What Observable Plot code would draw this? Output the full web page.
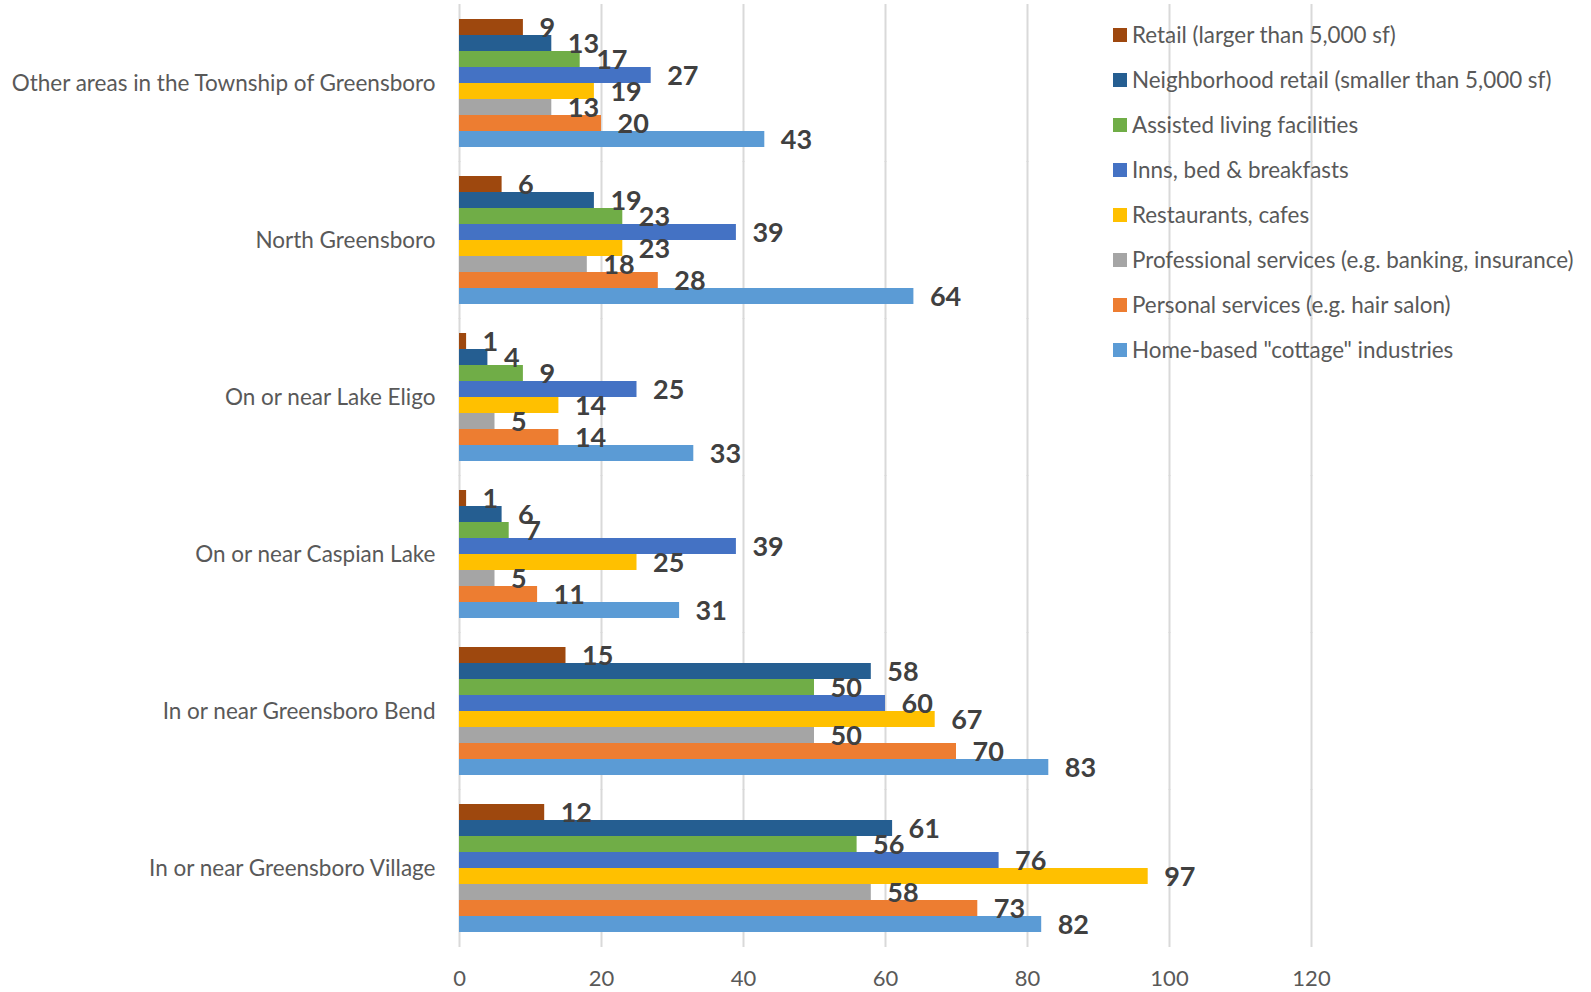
<!DOCTYPE html>
<html>
<head>
<meta charset="utf-8">
<script src="https://cdn.jsdelivr.net/npm/d3@7"></script>
<script src="https://cdn.jsdelivr.net/npm/@observablehq/plot@0.6"></script>
<style>
  html, body { margin: 0; padding: 0; background: #fff; }
  #wrap { position: relative; width: 1591px; height: 992px; }
  #legend { position: absolute; left: 1113px; top: 12px; font-family: Lato, sans-serif; font-size: 22.4px; color: #595959; }
  .item { display: flex; align-items: center; height: 45px; white-space: nowrap; }
  .sw { width: 14px; height: 14px; margin-right: 5px; flex: none; }
</style>
</head>
<body>
<div id="wrap"><div id="legend"></div></div>
<script>
const categories = [
  "Other areas in the Township of Greensboro",
  "North Greensboro",
  "On or near Lake Eligo",
  "On or near Caspian Lake",
  "In or near Greensboro Bend",
  "In or near Greensboro Village"
];
const series = [
  "Retail (larger than 5,000 sf)",
  "Neighborhood retail (smaller than 5,000 sf)",
  "Assisted living facilities",
  "Inns, bed & breakfasts",
  "Restaurants, cafes",
  "Professional services (e.g. banking, insurance)",
  "Personal services (e.g. hair salon)",
  "Home-based \"cottage\" industries"
];
const colors = ["#9E480E", "#255E91", "#70AD47", "#4472C4", "#FFC000", "#A5A5A5", "#ED7D31", "#5B9BD5"];
// values per category, in series order
const otherAreas = [9, 13, 17, 27, 19, 13, 20, 43];
const northGreensboro = [6, 19, 23, 39, 23, 18, 28, 64];
const lakeEligo = [1, 4, 9, 25, 14, 5, 14, 33];
const caspianLake = [1, 6, 7, 39, 25, 5, 11, 31];
const greensboroBend = [15, 58, 50, 60, 67, 50, 70, 83];
const greensboroVillage = [12, 61, 56, 76, 97, 58, 73, 82];
const xTicks = [0, 20, 40, 60, 80, 100, 120];

const valueRows = [otherAreas, northGreensboro, lakeEligo, caspianLake, greensboroBend, greensboroVillage];
const data = [];
categories.forEach((c, i) => series.forEach((s, j) => data.push({category: c, series: s, value: valueRows[i][j]})));

const chart = Plot.plot({
  width: 1591,
  height: 992,
  marginLeft: 459,
  marginRight: 280,
  marginTop: 4,
  marginBottom: 45,
  style: {fontFamily: "Lato, sans-serif", background: "white"},
  x: {domain: [0, 120]},
  fy: {domain: categories, paddingInner: 0.185, paddingOuter: 0.0925, label: null},
  y: {domain: series, padding: 0, axis: null},
  color: {domain: series, range: colors},
  marks: [
    Plot.ruleX(xTicks, {stroke: "#d9d9d9", strokeWidth: 2, insetTop: -15, insetBottom: -15}),
    Plot.barX(data, {x: "value", y: "series", fy: "category", fill: "series"}),
    Plot.text(data, {x: "value", y: "series", fy: "category", text: d => String(d.value), textAnchor: "start", dx: 16, dy: 1, fontSize: 27, fontWeight: "bold", fill: "#404040"}),
    Plot.axisX({ticks: xTicks, tickSize: 0, tickPadding: 38, fontSize: 22, color: "#595959", label: null}),
    Plot.axisFy({anchor: "left", tickSize: 0, tickPadding: 24, fontSize: 22.5, color: "#595959", label: null})
  ]
});
document.getElementById("wrap").prepend(chart);

const legend = document.getElementById("legend");
series.forEach((s, i) => {
  const it = document.createElement("div");
  it.className = "item";
  const sw = document.createElement("span");
  sw.className = "sw";
  sw.style.background = colors[i];
  const t = document.createElement("span");
  t.textContent = s;
  it.appendChild(sw);
  it.appendChild(t);
  legend.appendChild(it);
});
</script>
</body>
</html>
